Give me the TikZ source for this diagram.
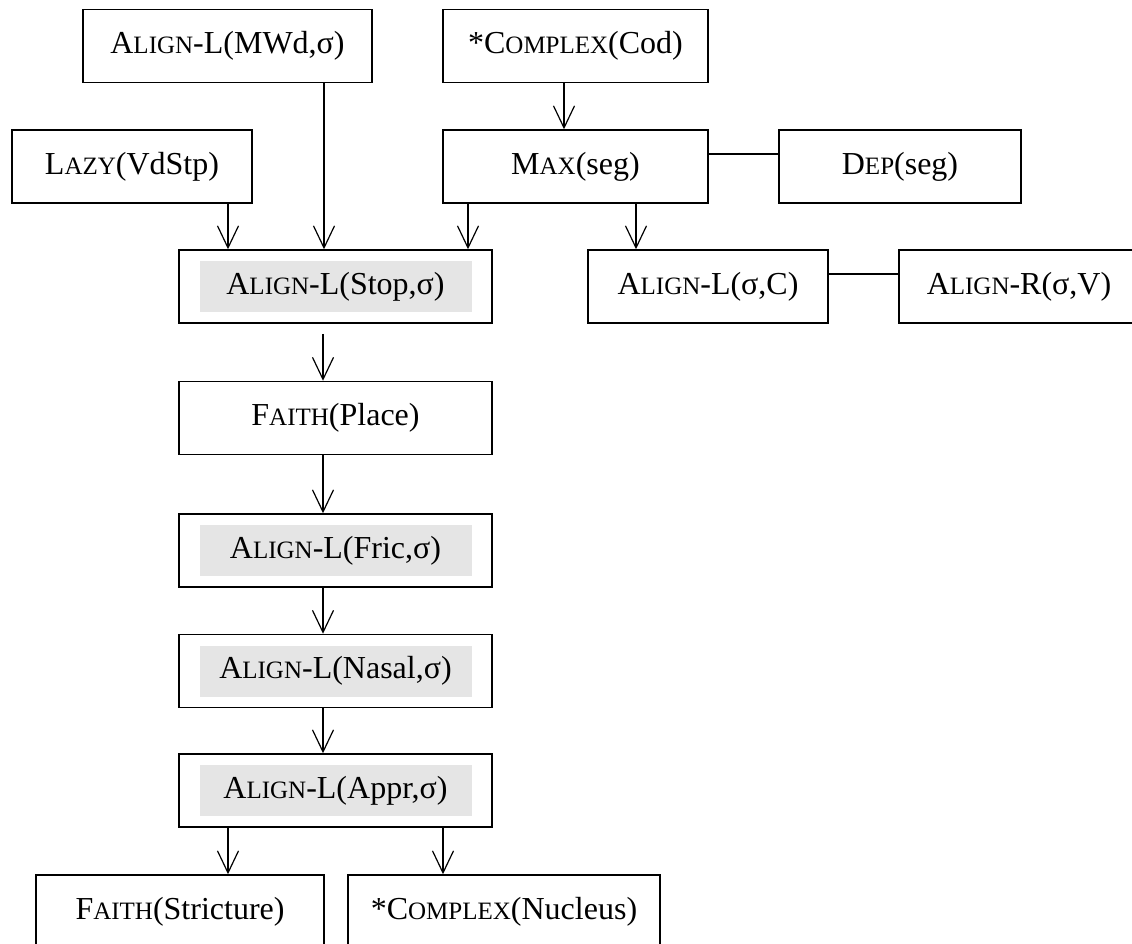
\documentclass[tikz,border=0pt]{standalone}
\usepackage{fontspec}
\setmainfont{Liberation Serif}
\usetikzlibrary{arrows.meta}
\newcommand{\smallcaps}[1]{{\fontsize{25}{29}\selectfont #1}}

\begin{document}
\begin{tikzpicture}[x=1pt,y=-1pt,font=\fontsize{32}{37}\selectfont,
  constraint/.style={draw,rectangle,line width=1.5pt,inner sep=0pt,minimum height=73pt,minimum width=#1},
  shaded/.style={path picture={\fill[black!10] ([xshift=21pt,yshift=11pt]path picture bounding box.south west) rectangle ([xshift=-20pt,yshift=-11pt]path picture bounding box.north east);}},
  dominates/.style={line width=1.2pt,-{Straight Barb[length=22pt,width=21pt,line width=1.2pt]}},
  tie/.style={line width=1.2pt}]
  \useasboundingbox (0,0) rectangle (1132,944);

  % top rows
  \node[constraint=289pt](mwd) at (227.5,46){A\smallcaps{LIGN}-L(MWd,σ)};
  \node[constraint=265pt](cod) at (575.5,46){*C\smallcaps{OMPLEX}(Cod)};
  \node[constraint=240pt](lazy) at (132,166.5){L\smallcaps{AZY}(VdStp)};
  \node[constraint=265pt](max) at (575.5,166.5){M\smallcaps{AX}(seg)};
  \node[constraint=242pt](dep) at (900,166.5){D\smallcaps{EP}(seg)};
  \node[constraint=313pt,shaded](stop) at (335.5,286.5){A\smallcaps{LIGN}-L(Stop,σ)};
  \node[constraint=240pt](alc) at (708,286.5){A\smallcaps{LIGN}-L(σ,C)};
  \node[constraint=240pt](arv) at (1019,286.5){A\smallcaps{LIGN}-R(σ,V)};

  % main column
  \node[constraint=313pt](place) at (335.5,418){F\smallcaps{AITH}(Place)};
  \node[constraint=313pt,shaded](fric) at (335.5,550.5){A\smallcaps{LIGN}-L(Fric,σ)};
  \node[constraint=313pt,shaded](nasal) at (335.5,671){A\smallcaps{LIGN}-L(Nasal,σ)};
  \node[constraint=313pt,shaded](appr) at (335.5,790.5){A\smallcaps{LIGN}-L(Appr,σ)};
  \node[constraint=288pt](stric) at (180,911.5){F\smallcaps{AITH}(Stricture)};
  \node[constraint=312pt](nuc) at (504,911.5){*C\smallcaps{OMPLEX}(Nucleus)};

  % rankings
  \draw[dominates] (lazy.south -| 228,0) -- (stop.north -| 228,0);
  \draw[dominates] (mwd.south -| 324,0) -- (stop.north -| 324,0);
  \draw[dominates] (max.south -| 468,0) -- (stop.north -| 468,0);
  \draw[dominates] (cod.south -| 564,0) -- (max.north -| 564,0);
  \draw[dominates] (max.south -| 636,0) -- (alc.north -| 636,0);
  \draw[tie] (max.east |- 0,154) -- (dep.west |- 0,154);
  \draw[tie] (alc.east |- 0,274) -- (arv.west |- 0,274);
  \draw[dominates,shorten <=10pt] (stop.south -| 323,0) -- (place.north -| 323,0);
  \foreach \a/\b in {place/fric,fric/nasal,nasal/appr}
    \draw[dominates] (\a.south -| 323,0) -- (\b.north -| 323,0);
  \draw[dominates] (appr.south -| 228,0) -- (stric.north -| 228,0);
  \draw[dominates] (appr.south -| 443,0) -- (nuc.north -| 443,0);
\end{tikzpicture}
\end{document}
